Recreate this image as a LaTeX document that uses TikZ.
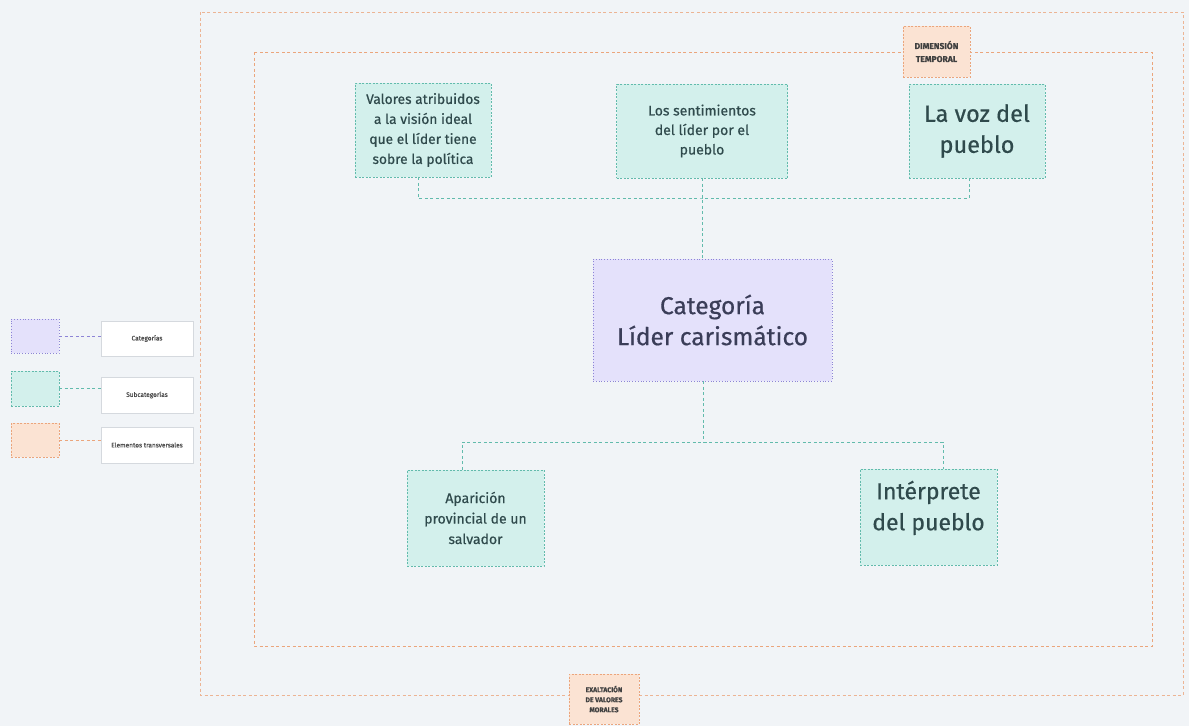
\documentclass[tikz,border=0pt]{standalone}
\usepackage{fontspec}
\setmainfont{Fira Sans}[FakeBold=0.5]
\usetikzlibrary{positioning}

\definecolor{bgcol}{HTML}{F1F4F7}
\definecolor{catfill}{HTML}{E4E1FB}
\definecolor{catline}{HTML}{8D84D6}
\definecolor{subfill}{HTML}{D3F0EC}
\definecolor{subline}{HTML}{62BBAC}
\definecolor{trfill}{HTML}{FBE3D3}
\definecolor{trline}{HTML}{EBA57C}
\definecolor{subtext}{HTML}{2F4A4C}
\definecolor{cattext}{HTML}{3A3D58}
\definecolor{legline}{HTML}{D5D9DE}

\tikzset{
  dashline/.style={line width=0.8pt, dash pattern=on 3pt off 2.5pt},
  catbox/.style={draw=catline, fill=catfill, dashline, dotted, text=cattext, align=center},
  subbox/.style={draw=subline, fill=subfill, dashline, dash pattern=on 2pt off 1.5pt, text=subtext, align=center},
  trbox/.style={draw=trline, fill=trfill, dashline, dash pattern=on 2pt off 1.5pt, text=black!75, align=center, font=\bfseries},
  legbox/.style={draw=legline, fill=white, line width=0.6pt, text=black!70, align=center},
  frameline/.style={draw=trline, dashline},
  subconn/.style={draw=subline, dashline}
}

\begin{document}
\begin{tikzpicture}[x=1pt, y=-1pt]
  \useasboundingbox[fill=bgcol] (0,0) rectangle (1189,726);

  % frames
  \draw[frameline, opacity=0.8] (200,12) rectangle (1183,695);
  \draw[frameline] (254,52) rectangle (1152,646);

  % transversal elements
  \node[trbox, minimum width=67pt, minimum height=51pt, font=\bfseries\fontsize{8.5}{13}\selectfont]
    (dimtemp) at (936.5,51.5) {DIMENSIÓN\\TEMPORAL};
  \node[trbox, minimum width=70pt, minimum height=50pt, font=\bfseries\fontsize{6.8}{10}\selectfont]
    (exalt) at (604,699) {EXALTACIÓN\\DE VALORES\\MORALES};

  % subcategories top
  \node[subbox, minimum width=136pt, minimum height=94pt, font=\fontsize{13.8}{20}\selectfont]
    (valores) at (423,130) {Valores atribuidos\\a la visión ideal\\que el líder tiene\\sobre la política};
  \node[subbox, minimum width=171pt, minimum height=94pt, font=\fontsize{14}{19.5}\selectfont]
    (sentim) at (702,131) {Los sentimientos\\del líder por el\\pueblo};
  \node[subbox, minimum width=136pt, minimum height=94pt, font=\fontsize{23.5}{31}\selectfont]
    (voz) at (977,131) {La voz del\\pueblo};

  % category
  \node[catbox, minimum width=239pt, minimum height=122pt, font=\fontsize{24.5}{31}\selectfont]
    (lider) at (712.5,320) {Categoría\\Líder carismático};

  % subcategories bottom
  \node[subbox, minimum width=137pt, minimum height=96pt, font=\fontsize{14}{20.5}\selectfont]
    (aparic) at (475.5,518) {Aparición\\provincial de un\\salvador};
  \node[subbox, minimum width=137pt, minimum height=96pt, font=\fontsize{23}{31}\selectfont]
    (interp) at (928.5,517) {Intérprete\\del pueblo\\[-8pt]\mbox{}};

  % connectors
  \coordinate (topbus) at (702,198);
  \coordinate (botbus) at (703,442);
  \draw[subconn] ([xshift=-5pt]valores.south) |- (topbus) -| ([xshift=-8pt]voz.south);
  \draw[subconn] (sentim.south) -- (sentim.south |- lider.north);
  \draw[subconn] (lider.south -| botbus) -- (botbus);
  \draw[subconn] ([xshift=-13.5pt]aparic.north) |- (botbus) -| ([xshift=14.5pt]interp.north);

  % legend
  \node[catbox, minimum width=48pt, minimum height=34pt] (legcat) at (35,336) {};
  \node[legbox, minimum width=92pt, minimum height=35pt, font=\fontsize{6.5}{8}\selectfont]
    (legcattxt) at (147,338.5) {Categorías};
  \node[subbox, minimum width=48pt, minimum height=35pt] (legsub) at (35,388.5) {};
  \node[legbox, minimum width=92pt, minimum height=36pt, font=\fontsize{6.5}{8}\selectfont]
    (legsubtxt) at (147,395) {Subcategorías};
  \node[trbox, minimum width=48pt, minimum height=34pt] (legtr) at (35,440) {};
  \node[legbox, minimum width=92pt, minimum height=36pt, font=\fontsize{6.5}{8}\selectfont]
    (legtrtxt) at (147,445) {Elementos transversales};

  \draw[draw=catline, dashline] (legcat.east) -- (legcat.east -| legcattxt.west);
  \draw[subconn] (legsub.east) -- (legsub.east -| legsubtxt.west);
  \draw[draw=trline, dashline] (legtr.east) -- (legtr.east -| legtrtxt.west);

\end{tikzpicture}
\end{document}
